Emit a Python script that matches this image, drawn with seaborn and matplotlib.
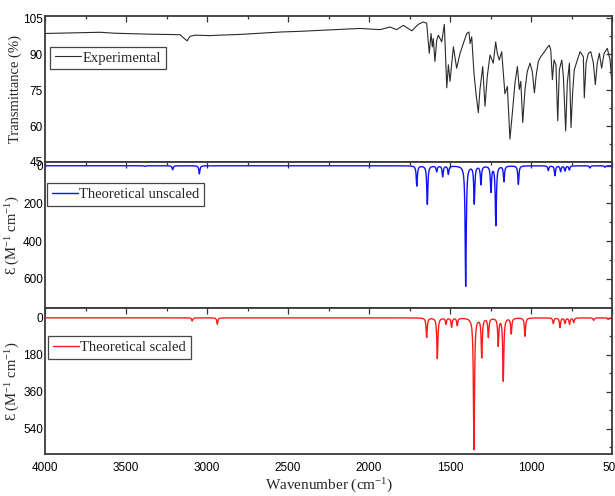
import numpy as np
import pandas as pd
import matplotlib
matplotlib.use("Agg")
import matplotlib.pyplot as plt
import seaborn as sns
from matplotlib import font_manager
from matplotlib.ticker import MultipleLocator

# experimental spectrum, vertices (wavenumber, transmittance %)
exp_wn = [4000, 3660, 3568, 3352, 3167, 3123, 3105, 3074, 2981, 2920, 2796, 2673, 2549,
          2426, 2302, 2179, 2056, 1932, 1870, 1829, 1788, 1736, 1696, 1665, 1644, 1628,
          1617, 1609, 1603, 1593, 1582, 1572, 1551, 1535, 1520, 1510, 1500, 1490, 1479,
          1459, 1438, 1397, 1383, 1376, 1366, 1352, 1340, 1325, 1315, 1298, 1284, 1270,
          1253, 1233, 1218, 1208, 1196, 1181, 1161, 1146, 1130, 1113, 1099, 1084, 1072,
          1063, 1051, 1037, 1023, 1006, 992, 979, 969, 955, 940, 924, 903, 887, 878, 868,
          858, 846, 835, 825, 810, 800, 786, 776, 763, 753, 743, 733, 714, 697, 677, 671,
          660, 646, 631, 615, 603, 591, 578, 564, 549, 529, 512, 502, 495]
exp_t = [98.7, 99.2, 98.8, 98.4, 98.2, 95.6, 97.5, 98.0, 97.8, 98.0, 98.3, 98.8, 99.3,
         99.6, 100.0, 100.4, 100.8, 100.3, 101.4, 100.3, 102.1, 99.8, 102.5, 103.5, 103.0, 90.4,
         98.7, 93.1, 96.6, 87.0, 95.9, 98.0, 95.2, 102.5, 76.0, 85.6, 78.7, 85.6, 93.1,
         84.2, 90.4, 98.7, 99.3, 94.5, 97.3, 82.1, 73.9, 65.6, 75.3, 84.9, 68.3, 80.7,
         89.7, 86.3, 95.2, 90.4, 87.6, 91.1, 73.5, 76.6, 54.6, 67.0, 78.0, 84.9, 75.3,
         78.7, 61.5, 75.3, 82.8, 86.3, 82.8, 73.9, 80.7, 87.0, 89.0, 90.4, 92.5, 93.8, 91.8, 79.4,
         87.6, 85.6, 62.2, 83.5, 87.6, 80.7, 58.0, 78.0, 86.3, 59.4, 73.9, 83.5, 87.6, 91.1, 89.0, 71.8,
         86.3, 90.4, 91.1, 86.3, 77.3, 86.3, 90.4, 84.2, 90.4, 92.5, 87.6, 79.4, 82.3]

# theoretical peak lists (position cm-1, epsilon)
unscaled_wn = [3383, 3212, 3047, 1705, 1640, 1582, 1545, 1510, 1403, 1350, 1309,
               1247, 1217, 1167, 1078, 893, 852, 817, 790, 763, 636, 543]
unscaled_eps = [3, 21, 43, 107, 204, 30, 57, 44, 638, 199, 97,
                135, 315, 82, 98, 25, 52, 30, 27, 22, 12, 8]

scaled_wn = [3091, 2936, 1644, 1578, 1525, 1490, 1455, 1352, 1304, 1263,
             1202, 1171, 1122, 1037, 862, 821, 790, 762, 736, 613, 523]
scaled_eps = [15, 31, 95, 198, 30, 44, 36, 640, 190, 92,
              133, 306, 76, 89, 27, 47, 26, 31, 22, 12, 8]

fwhm = 8.0


def broaden(centers, heights, width):
    grid = np.arange(500, 4001, 0.5)
    g = width / 2
    y = np.zeros_like(grid)
    for c, h in zip(centers, heights):
        y += h * g ** 2 / ((grid - c) ** 2 + g ** 2)
    return pd.DataFrame({"wn": grid, "eps": y})


def pick(name, fallback):
    try:
        font_manager.findfont(name, fallback_to_default=False)
        return name
    except Exception:
        return fallback


sns.set_style("white")
serif = pick("Liberation Serif", "DejaVu Serif")
narrow = pick("Liberation Sans Narrow", "Liberation Sans")
plt.rcParams["font.family"] = [serif, "DejaVu Serif"]
plt.rcParams["mathtext.fontset"] = "custom"
plt.rcParams["mathtext.rm"] = serif
plt.rcParams["mathtext.it"] = serif + ":italic"

df_exp = pd.DataFrame({"wn": exp_wn, "T": exp_t})
df_uns = broaden(unscaled_wn, unscaled_eps, fwhm)
df_sc = broaden(scaled_wn, scaled_eps, fwhm)

fig, axes = plt.subplots(3, 1, figsize=(6.15, 4.96), dpi=100, sharex=True)
fig.subplots_adjust(left=45 / 615, right=612 / 615, top=1 - 16 / 496,
                    bottom=1 - 454 / 496, hspace=0)
ax1, ax2, ax3 = axes

sns.lineplot(data=df_exp, x="wn", y="T", ax=ax1, color="#2b2b2b", lw=0.8,
             estimator=None, sort=False, label="Experimental")
sns.lineplot(data=df_uns, x="wn", y="eps", ax=ax2, color="#1010ff", lw=1.0,
             estimator=None, label="Theoretical unscaled")
sns.lineplot(data=df_sc, x="wn", y="eps", ax=ax3, color="#ff1a1a", lw=1.0,
             estimator=None, label="Theoretical scaled")

ax1.set_ylim(45, 106)
ax1.yaxis.set_major_locator(MultipleLocator(15))
ax1.yaxis.set_minor_locator(MultipleLocator(7.5))
ax2.set_ylim(755, -20)
ax2.yaxis.set_major_locator(MultipleLocator(200))
ax2.yaxis.set_minor_locator(MultipleLocator(100))
ax3.set_ylim(663, -48)
ax3.yaxis.set_major_locator(MultipleLocator(180))
ax3.yaxis.set_minor_locator(MultipleLocator(90))

ax3.set_xlim(4000, 500)
ax3.xaxis.set_major_locator(MultipleLocator(500))
ax3.xaxis.set_minor_locator(MultipleLocator(250))

eps_label = "\u0190 (M$^{\\mathrm{-1}}$ cm$^{\\mathrm{-1}}$)"
ax1.set_ylabel("Transmittance (%)", fontsize=10.5)
ax2.set_ylabel(eps_label, fontsize=10.5)
ax3.set_ylabel(eps_label, fontsize=10.5)
for ax in axes:
    ax.set_xlabel("")
    ax.yaxis.set_label_coords(-0.041, 0.5)
ax3.set_xlabel("Wavenumber (cm$^{\\mathrm{-1}}$)", fontsize=11, labelpad=2)

legend_pos = [(0.009, 0.79), (0.0035, 0.856), (0.005, 0.808)]
for ax, pos in zip(axes, legend_pos):
    ax.legend(loc="upper left", bbox_to_anchor=pos, borderaxespad=0, fancybox=False,
              frameon=True, edgecolor="#444444", framealpha=1, fontsize=10.5,
              handlelength=1.8, handletextpad=0.1, borderpad=0.32)
    ax.legend_.get_frame().set_linewidth(0.9)
    ax.tick_params(which="both", direction="in", top=True, right=True,
                   width=0.9, colors="#333333", labelcolor="black")
    ax.tick_params(which="major", length=4, pad=1.5)
    ax.tick_params(which="minor", length=2)
    for lab in ax.get_xticklabels() + ax.get_yticklabels():
        lab.set_fontfamily(narrow)
        lab.set_fontsize(8.5)
    for sp in ax.spines.values():
        sp.set_color("#3a3a3a")
        sp.set_linewidth(1.3)
ax3.tick_params(axis="x", which="major", pad=6)

fig.savefig("out.png", dpi=100)
